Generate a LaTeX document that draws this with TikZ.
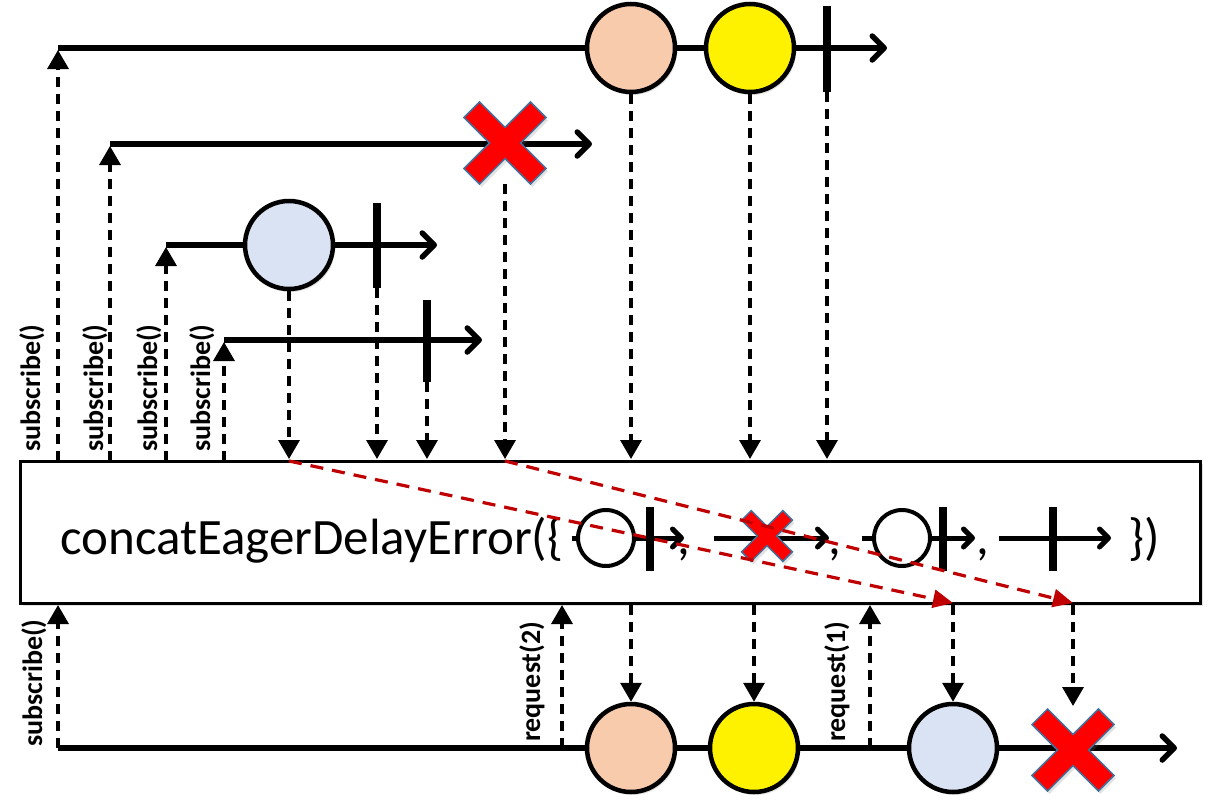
\documentclass[tikz,border=0pt]{standalone}
\usepackage{fontspec}
\setmainfont{Carlito}
\usetikzlibrary{arrows.meta,shadows}
\definecolor{peach}{HTML}{F8CBAD}
\definecolor{lblue}{HTML}{DAE3F3}
\definecolor{xred}{HTML}{FF0000}
\definecolor{xedge}{HTML}{41719C}
\definecolor{dred}{HTML}{C00000}
\tikzset{
  shd/.style={drop shadow={opacity=0.22,shadow xshift=2pt,shadow yshift=-3pt}},
  tline/.style={line width=5.5pt,-{Straight Barb[length=12pt,width=24pt,round]}},
  sline/.style={line width=5pt,-{Straight Barb[length=9pt,width=18pt,round]}},
  marble/.style={circle,draw=black,line width=4.5pt,minimum size=88pt,inner sep=0pt,shd},
  smarble/.style={circle,draw=black,line width=4pt,fill=white,minimum size=56pt,inner sep=0pt},
  stopbar/.style={line width=8.5pt},
  dsh/.style={line width=3.4pt,dash pattern=on 10pt off 7pt,-{Triangle[length=19pt,width=21pt]}},
  rdsh/.style={draw=dred,line width=3.2pt,dash pattern=on 13pt off 9pt,-{Triangle[length=20pt,width=18pt,fill=dred]}},
  lbl/.style={rotate=90,anchor=base west,inner sep=0pt,font=\bfseries\fontsize{28}{30}\selectfont},
  bigtxt/.style={anchor=base west,inner sep=0pt,font=\fontsize{51}{60}\selectfont},
  xmark/.pic={\draw[fill=xred,draw=xedge,line width=1.5pt,rotate=45,shd]
    (11,47)--(11,11)--(47,11)--(47,-11)--(11,-11)--(11,-47)--(-11,-47)--(-11,-11)
    --(-47,-11)--(-47,11)--(-11,11)--(-11,47)--cycle;}
}
\begin{document}
\begin{tikzpicture}[x=1pt,y=-1pt]
\useasboundingbox (0,0) rectangle (1214,811);

% ---------- top sources ----------
% source 1
\coordinate (s1a) at (58,48); \coordinate (s1b) at (887,48);
\draw[tline] (s1a) -- (s1b);
\node[marble,fill=peach] (p1) at (631,48) {};
\node[marble,fill=yellow] (y1) at (750,48) {};
\coordinate (b1t) at (827,6); \coordinate (b1b) at (827,92);
\draw[stopbar] (b1t) -- (b1b);
% source 2
\coordinate (s2a) at (110,144); \coordinate (s2b) at (592,144);
\draw[tline] (s2a) -- (s2b);
\pic at (505,143) {xmark};
\coordinate (x2b) at (505,184);
% source 3
\coordinate (s3a) at (166,245); \coordinate (s3b) at (437,245);
\draw[tline] (s3a) -- (s3b);
\node[marble,fill=lblue] (c3) at (289,245) {};
\coordinate (b3t) at (377,203); \coordinate (b3b) at (377,288);
\draw[stopbar] (b3t) -- (b3b);
% source 4
\coordinate (s4a) at (224,340); \coordinate (s4b) at (482,340);
\draw[tline] (s4a) -- (s4b);
\coordinate (b4t) at (427,300); \coordinate (b4b) at (427,382);
\draw[stopbar] (b4t) -- (b4b);

% ---------- operator box ----------
\node[draw=black,line width=3pt,fill=white,minimum width=1180pt,minimum height=142pt,inner sep=0pt,
      drop shadow={opacity=0.22,shadow xshift=3pt,shadow yshift=-3pt}] (box) at (610,532) {};
\node[bigtxt] (optxt) at (60,554) {concatEagerDelayError(\{};
% mini 1
\coordinate (m1a) at (572,538); \coordinate (m1b) at (684,538);
\draw[sline] (m1a) -- (m1b);
\node[smarble] (mc1) at (606,538) {};
\coordinate (mb1t) at (650,507); \coordinate (mb1b) at (650,571);
\draw[stopbar] (mb1t) -- (mb1b);
\node[bigtxt] (cm1) at (677,554) {,};
% mini 2
\coordinate (m2a) at (714,538); \coordinate (m2b) at (829,538);
\draw[sline] (m2a) -- (m2b);
\pic[scale=0.62] at (767,536) {xmark};
\node[bigtxt] (cm2) at (828,554) {,};
% mini 3
\coordinate (m3a) at (862,538); \coordinate (m3b) at (975,538);
\draw[sline] (m3a) -- (m3b);
\node[smarble] (mc3) at (902,538) {};
\coordinate (mb3t) at (943,507); \coordinate (mb3b) at (943,571);
\draw[stopbar] (mb3t) -- (mb3b);
\node[bigtxt] (cm3) at (976,554) {,};
% mini 4
\coordinate (m4a) at (999,538); \coordinate (m4b) at (1111,538);
\draw[sline] (m4a) -- (m4b);
\coordinate (mb4t) at (1053,507); \coordinate (mb4b) at (1053,571);
\draw[stopbar] (mb4t) -- (mb4b);
\node[bigtxt] (close) at (1128,554) {\})};

% ---------- subscribe arrows (top) ----------
\foreach \x/\ly/\bx in {58/48/40,110/144/103,166/245/157,224/340/210}{
  \draw[dsh] (\x,461) -- (\x,\ly+2);
  \node[lbl] at (\bx,452) {subscribe()};
}

% ---------- emissions into box ----------
\draw[dsh] (c3.south) -- (289,459);
\draw[dsh] (b3b) -- (377,459);
\draw[dsh] (b4b) -- (427,459);
\draw[dsh] (x2b) -- (505,459);
\draw[dsh] (p1.south) -- (631,459);
\draw[dsh] (y1.south) -- (750,459);
\draw[dsh] (b1b) -- (827,459);

% ---------- output ----------
\coordinate (oa) at (58,748); \coordinate (ob) at (1177,748);
\draw[tline] (oa) -- (ob);
\node[marble,fill=peach] (p2) at (631,748) {};
\node[marble,fill=yellow] (y2) at (754,748) {};
\node[marble,fill=lblue] (c2) at (953,748) {};
\pic at (1073,750) {xmark};
\coordinate (x3t) at (1073,706);

\draw[dsh] (oa) -- (58,605);
\node[lbl] at (42,747) {subscribe()};
\coordinate (r2) at (562,748);
\draw[dsh] (r2) -- (562,605);
\node[lbl] at (540,742) {request(2)};
\coordinate (r1) at (870,748);
\draw[dsh] (r1) -- (870,605);
\node[lbl] at (845,742) {request(1)};

\draw[dsh] (631,605) -- (p2.north);
\draw[dsh] (754,605) -- (y2.north);
\draw[dsh] (953,605) -- (c2.north);
\draw[dsh] (1073,605) -- (x3t);

% ---------- red delayed-error arrows ----------
\coordinate (ra1) at (289,461); \coordinate (rb1) at (953,603);
\coordinate (ra2) at (505,461); \coordinate (rb2) at (1073,603);
\draw[rdsh] (ra1) -- (rb1);
\draw[rdsh] (ra2) -- (rb2);
\end{tikzpicture}
\end{document}
